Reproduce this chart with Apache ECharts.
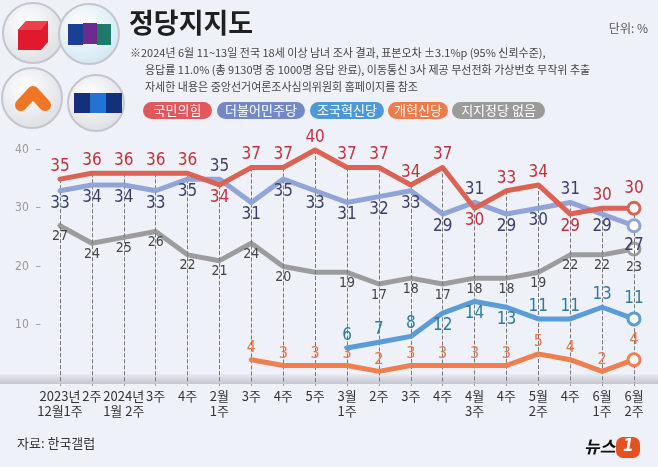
<!DOCTYPE html>
<html><head><meta charset="utf-8">
<script src="https://cdn.jsdelivr.net/npm/echarts@6/dist/echarts.min.js"></script>
<style>html,body{margin:0;padding:0;background:#eef2f8}#c{width:658px;height:467px}</style>
</head><body><div id="c"></div>
<script>
const categories = ["2023년\n12월1주","2주","2024년\n1월 2주","3주","4주","2월\n1주","3주","4주","5주","3월\n1주","2주","3주","4주","4월\n3주","4주","5월\n2주","4주","6월\n1주","6월\n2주"];
const seriesNames = ["국민의힘","더불어민주당","조국혁신당","개혁신당","지지정당 없음"];
const ppp     = [35,36,36,36,36,34,37,37,40,37,37,34,37,30,33,34,29,30,30];
const dem     = [33,34,34,33,35,35,31,35,33,31,32,33,29,31,29,30,31,29,27];
const rebuild = [null,null,null,null,null,null,null,null,null,6,7,8,12,14,13,11,11,13,11];
const reform  = [null,null,null,null,null,null,4,3,3,3,2,3,3,3,3,5,4,2,4];
const noneP   = [27,24,25,26,22,21,24,20,19,19,17,18,17,18,18,19,22,22,23];
const yTicks  = [10,20,30,40];

const NUMFONT = "'Liberation Sans Narrow','DejaVu Sans Condensed',Roboto,sans-serif";
const KFONT = "'Noto Sans CJK KR','Noto Sans',sans-serif";

function build(vals, lineColor, posFn, hideIdx) {
  const last = vals.length - 1;
  return vals.map((v, i) => {
    if (v == null) return null;
    const item = { value: v, label: { position: posFn(i), show: !(hideIdx && hideIdx.includes(i)) } };
    if (i === last) {
      item.symbolSize = 12;
      item.itemStyle = { color: '#fff', borderColor: lineColor, borderWidth: 3 };
    }
    return item;
  });
}
function lineSeries(name, vals, lineColor, labelColor, fontSize, posFn, z, hideIdx) {
  return {
    name, type: 'line', z, data: build(vals, lineColor, posFn, hideIdx),
    symbol: 'circle', symbolSize: 0, showAllSymbol: true, clip: false, connectNulls: false,
    lineStyle: { color: lineColor, width: 5, cap: 'round', join: 'round' },
    itemStyle: { color: lineColor },
    label: { show: true, color: labelColor, fontSize, fontFamily: NUMFONT, distance: 4 },
    emphasis: { disabled: true }, animation: false
  };
}
const dashTop = categories.map((c, i) => Math.max(ppp[i], dem[i]));

const pillColors = ['#e2585a','#7388c6','#5098d3','#ef7b4b','#9b9b9b'];
const pillX = [143,217,310,388,452];
const pillW = [69,88,74,60,93];
const graphics = [
  { type:'rect', shape:{x:0,y:374,width:658,height:10}, style:{fill:{type:'linear',x:0,y:0,x2:0,y2:1,colorStops:[{offset:0,color:'#e9ebf0'},{offset:1,color:'#c3c6cd'}]}}, z:3 },
  { type:'text', left:129, top:9, style:{text:'정당지지도', font:"bold 27px "+KFONT, fill:'#1f1f1f'} },
  { type:'text', right:10, top:22, style:{text:'단위: %', font:"12px "+KFONT, fill:'#555'} },
  { type:'text', left:130, top:47, style:{text:'※2024년 6월 11~13일 전국 18세 이상 남녀 조사 결과, 표본오차 ±3.1%p (95% 신뢰수준),', font:"11px "+KFONT, fill:'#444'} },
  { type:'text', left:145, top:64, style:{text:'응답률 11.0% (총 9130명 중 1000명 응답 완료), 이동통신 3사 제공 무선전화 가상번호 무작위 추출', font:"11px "+KFONT, fill:'#444'} },
  { type:'text', left:145, top:81, style:{text:'자세한 내용은 중앙선거여론조사심의위원회 홈페이지를 참조', font:"11px "+KFONT, fill:'#444'} },
  { type:'text', left:17, top:437, style:{text:'자료: 한국갤럽', font:"13px "+KFONT, fill:'#333'} },
  // logos
  { type:'circle', shape:{cx:33,cy:33,r:30}, style:{fill:{type:'radial',x:0.4,y:0.35,r:0.7,colorStops:[{offset:0,color:'#ffffff'},{offset:1,color:'#dcdde3'}]}, stroke:'#c4c6cc', lineWidth:2} },
  { type:'polygon', shape:{points:[[18,30],[26,21],[48,21],[48,42],[41,50],[18,50]]}, style:{fill:'#e01a2c'} },
  { type:'polygon', shape:{points:[[18,30],[26,21],[48,21],[41,30]]}, style:{fill:'#f04050'} },
  { type:'circle', shape:{cx:89,cy:34,r:30}, style:{fill:{type:'radial',x:0.4,y:0.35,r:0.7,colorStops:[{offset:0,color:'#ffffff'},{offset:1,color:'#cfe6f2'}]}, stroke:'#c4c6cc', lineWidth:2} },
  { type:'rect', shape:{x:68,y:24,width:15,height:21}, style:{fill:'#1b3f92'} },
  { type:'rect', shape:{x:83,y:23,width:14,height:21}, style:{fill:'#6a2c8e'} },
  { type:'rect', shape:{x:97,y:24,width:14,height:21}, style:{fill:'#1d7b6b'} },
  { type:'circle', shape:{cx:32,cy:98,r:30}, style:{fill:{type:'radial',x:0.4,y:0.35,r:0.7,colorStops:[{offset:0,color:'#ffffff'},{offset:1,color:'#dcdde3'}]}, stroke:'#c4c6cc', lineWidth:2} },
  { type:'polyline', shape:{points:[[21,105],[33,92],[45,105]]}, style:{stroke:'#ef7622', lineWidth:12, lineCap:'round', lineJoin:'round', fill:null} },
  { type:'circle', shape:{cx:96,cy:103,r:28}, style:{fill:{type:'radial',x:0.4,y:0.35,r:0.7,colorStops:[{offset:0,color:'#ffffff'},{offset:1,color:'#dcdde3'}]}, stroke:'#c4c6cc', lineWidth:2} },
  { type:'rect', shape:{x:74,y:93,width:16,height:20}, style:{fill:'#162f7c'} },
  { type:'rect', shape:{x:90,y:93,width:16,height:20}, style:{fill:'#2274d2'} },
  { type:'rect', shape:{x:106,y:93,width:16,height:20}, style:{fill:'#162f7c'} },
  // news1 logo
  { type:'text', left:584, top:438, style:{text:'뉴스', font:"italic bold 17px "+KFONT, fill:'#111'} },
  { type:'rect', shape:{x:616,y:437,width:24,height:21,r:7}, style:{fill:'#e4521f'} },
  { type:'text', left:623, top:438, style:{text:'1', font:"italic bold 17px "+NUMFONT, fill:'#fff'} }
];
seriesNames.forEach((n, i) => {
  graphics.push({ type:'rect', shape:{x:pillX[i], y:102, width:pillW[i], height:17, r:8.5}, style:{fill:pillColors[i]} });
  graphics.push({ type:'text', x:pillX[i]+pillW[i]/2, y:110.5, style:{text:n, font:"13px "+KFONT, fill:'#fff', align:'center', verticalAlign:'middle'} });
});

const chart = echarts.init(document.getElementById('c'), null, {renderer:'canvas'});
chart.setOption({
  backgroundColor: '#eef2f8',
  animation: false,
  grid: { left: 60, right: 24, top: 150, bottom: 84 },
  xAxis: {
    type: 'category', data: categories, boundaryGap: false,
    axisLine: { show: false },
    axisTick: { show: true, length: 3, lineStyle: { color: '#999' } },
    axisLabel: { color: '#333', fontSize: 13, lineHeight: 15, margin: 6, fontFamily: KFONT, interval: 0 },
    splitLine: { show: false }
  },
  yAxis: {
    type: 'value', min: 0, max: 40, interval: 10,
    axisLine: { show: false }, axisTick: { show: false }, splitLine: { show: false },
    axisLabel: { color: '#999', fontSize: 12, margin: 19, fontFamily: NUMFONT,
      formatter: v => yTicks.includes(v) ? v + '  –' : '' }
  },
  graphic: graphics,
  series: [
    { type: 'line', data: [], z: 1, silent: true,
      markLine: { silent: true, symbol: ['none','none'], label: { show: false }, animation: false,
        lineStyle: { type: 'dashed', color: '#777', width: 1 },
        data: dashTop.map((t, i) => [{ coord: [i, t] }, { coord: [i, 0] }]) } },
    lineSeries(seriesNames[4], noneP, '#9c9c9c', '#444', 14, () => 'bottom', 4, [8]),
    lineSeries(seriesNames[3], reform, '#ef7f4f', '#e2774a', 16, () => 'top', 5),
    lineSeries(seriesNames[2], rebuild, '#5b9bd8', '#2c7c9c', 17, i => [12,13,14].includes(i) ? 'bottom' : 'top', 6),
    lineSeries(seriesNames[1], dem, '#90a4d8', '#3d3f6b', 17, i => [5,13,16].includes(i) ? 'top' : 'bottom', 7),
    lineSeries(seriesNames[0], ppp, '#dc6353', '#c4303c', 17, i => [5,13,16].includes(i) ? 'bottom' : 'top', 8)
  ]
});
</script></body></html>
